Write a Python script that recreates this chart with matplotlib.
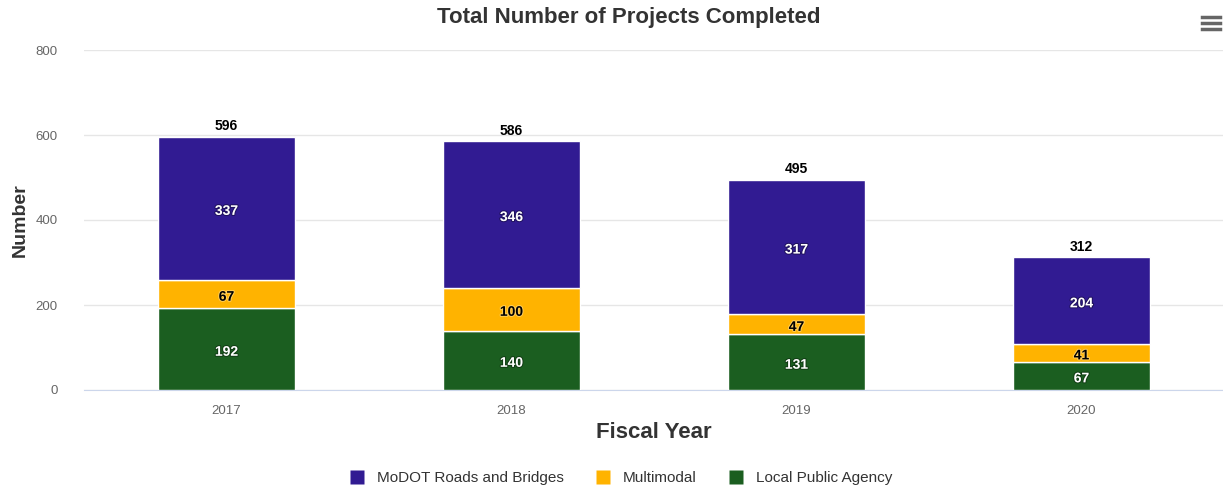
import matplotlib.pyplot as plt
import matplotlib.patheffects as pe
from matplotlib.lines import Line2D
import numpy as np

plt.rcParams['font.family'] = ['Liberation Sans', 'DejaVu Sans']

years = ['2017', '2018', '2019', '2020']
local_agency = [192, 140, 131, 67]
multimodal = [67, 100, 47, 41]
modot = [337, 346, 317, 204]
totals = [596, 586, 495, 312]

series_names = ['Local Public Agency', 'Multimodal', 'MoDOT Roads and Bridges']
series_colors = ['#1b5e20', '#ffb300', '#311b92']
label_colors = ['white', '#000000', 'white']

fig = plt.figure(figsize=(12.23, 4.91), dpi=100)
ax = fig.add_axes([84 / 1223, 101 / 491, 1140 / 1223, 340 / 491])

x = np.arange(len(years))
bottom = np.zeros(len(years))
for vals, name, col, lcol in zip([local_agency, multimodal, modot], series_names, series_colors, label_colors):
    ax.bar(x, vals, width=0.48, bottom=bottom, color=col, edgecolor='white', linewidth=1, zorder=3)
    for xi, b, v in zip(x, bottom, vals):
        # highcharts puts inside labels a touch below the middle
        t = ax.text(xi, b + v / 2 - 6, str(v), ha='center', va='center', fontsize=10,
                    fontweight='bold', color=lcol, zorder=4)
        t.set_path_effects([pe.withStroke(linewidth=1.5, foreground='black' if lcol == 'white' else 'white', alpha=0.35)])
    bottom += np.array(vals)

for xi, tot in zip(x, totals):
    ax.text(xi, tot + 8, str(tot), ha='center', va='bottom', fontsize=10,
            fontweight='bold', color='#000000')

ax.set_xlim(-0.5, 3.5)
ax.set_ylim(0, 800)
ax.set_yticks([0, 200, 400, 600, 800])
ax.set_xticks(x)
ax.set_xticklabels(years)
ax.grid(axis='y', color='#e6e6e6', linewidth=1, zorder=0)
for s in ['top', 'right', 'left']:
    ax.spines[s].set_visible(False)
ax.spines['bottom'].set_color('#ccd6eb')
ax.tick_params(axis='both', length=0, labelsize=9.5, colors='#666666')
ax.tick_params(axis='y', pad=19)
ax.tick_params(axis='x', pad=11)

fig.text(654 / 1223, 1 - 433 / 491, 'Fiscal Year', ha='center', va='center',
         fontsize=16, fontweight='bold', color='#333333')
fig.text(20 / 1223, 1 - 220 / 491, 'Number', ha='center', va='center', rotation=90,
         fontsize=14, fontweight='bold', color='#333333')
fig.text(629 / 1223, 1 - 17 / 491, 'Total Number of Projects Completed', ha='center', va='center',
         fontsize=16, fontweight='bold', color='#333333')

legend_order = ['MoDOT Roads and Bridges', 'Multimodal', 'Local Public Agency']
proxies = [Line2D([], [], marker='s', linestyle='none', markersize=10.5,
                  markerfacecolor=series_colors[series_names.index(n)], markeredgecolor='none')
           for n in legend_order]
fig.legend(proxies, legend_order, loc='center', bbox_to_anchor=(617 / 1223, 1 - 478 / 491),
           ncol=3, frameon=False, fontsize=11, labelcolor='#333333', handletextpad=0.3,
           columnspacing=1.55)

# menu icon
for yy in [17, 23, 29]:
    fig.add_artist(Line2D([1202 / 1223, 1220 / 1223], [1 - yy / 491] * 2, color='#666666',
                          linewidth=2.5, transform=fig.transFigure))

fig.savefig('out.png', dpi=100)
